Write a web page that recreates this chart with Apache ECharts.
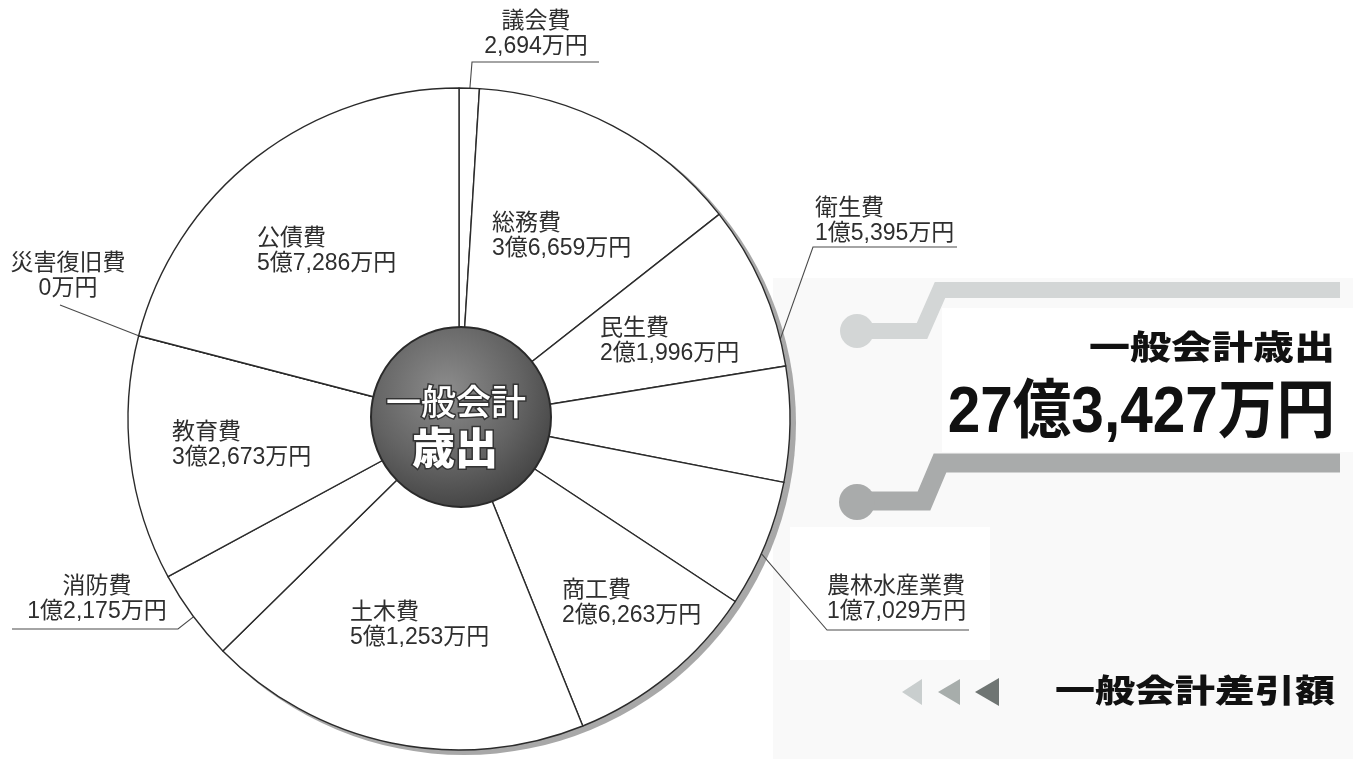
<!DOCTYPE html>
<html lang="ja">
<head>
<meta charset="utf-8">
<title>一般会計歳出</title>
<script src="https://cdn.jsdelivr.net/npm/echarts@6/dist/echarts.min.js"></script>
<style>
html,body{margin:0;padding:0;background:#fff;}
#chart{width:1353px;height:759px;}
</style>
</head>
<body>
<div id="chart"></div>
<script>
// ---- data (万円) ----
const categories = ['議会費','総務費','民生費','衛生費','農林水産業費','商工費','土木費','消防費','教育費','災害復旧費','公債費'];
const values = [2694, 36659, 21996, 15395, 17029, 26263, 51253, 12175, 32673, 0, 57286];
const centerTitle = ['一般会計', '歳出'];
const totalTitle = '一般会計歳出';
const totalValue = '27億3,427万円';
const subTitle = '一般会計差引額';

// ---- layout (not data) ----
const CENTER = [459, 419];
const RADIUS = 331;
const LABEL_LAYOUT = {
  '議会費':     {x: 536, y: 9,   align: 'center', line: {f: 0.96, ex: 472, ey: 62,  tx: 599}},
  '総務費':     {x: 492, y: 211, align: 'left'},
  '民生費':     {x: 600, y: 316, align: 'left'},
  '衛生費':     {x: 815, y: 196, align: 'left',   line: {f: 0.88, ex: 813, ey: 247, tx: 957}},
  '農林水産業費': {x: 827, y: 574, align: 'left',   line: {f: 0.94, ex: 827, ey: 630, tx: 969}},
  '商工費':     {x: 562, y: 578, align: 'left'},
  '土木費':     {x: 350, y: 600, align: 'left'},
  '消防費':     {x: 97,  y: 574, align: 'center', line: {f: 0.86, ex: 178, ey: 629, tx: 12}},
  '教育費':     {x: 172, y: 420, align: 'left'},
  '災害復旧費':   {x: 68,  y: 251, align: 'center', line: {f: 1.0, ex: 60, ey: 305, tx: 60}},
  '公債費':     {x: 257, y: 226, align: 'left'}
};

function fmtMan(v) {
  const oku = Math.floor(v / 10000);
  const man = v % 10000;
  const manStr = man.toLocaleString('en-US');
  return (oku > 0 ? oku + '億' : '') + manStr + '万円';
}

const total = values.reduce((a, b) => a + b, 0);
function midAngleOf(i) {
  let before = 0;
  for (let k = 0; k < i; k++) before += values[k];
  const frac = (before + values[i] / 2) / total;
  return frac * Math.PI * 2; // clockwise from top
}

const pieData = categories.map((name, i) => ({
  name: name,
  value: values[i],
  labelLine: {show: !!LABEL_LAYOUT[name].line}
}));

const FONT = '"Liberation Sans", "Noto Sans CJK JP", sans-serif';
const HEAVY = '"Noto Sans CJK JP", sans-serif';

const chart = echarts.init(document.getElementById('chart'), null, {renderer: 'canvas'});

const option = {
  backgroundColor: '#ffffff',
  animation: false,
  graphic: {
    elements: [
      // faint scanned panel on the right
      {type: 'rect', z: 0, shape: {x: 773, y: 278, width: 580, height: 481}, style: {fill: '#f9f9f9'}},
      {type: 'rect', z: 0, shape: {x: 942, y: 308, width: 411, height: 144}, style: {fill: '#ffffff'}},
      {type: 'rect', z: 0, shape: {x: 790, y: 527, width: 200, height: 133}, style: {fill: '#ffffff'}},
      // shadow crescent behind the pie
      {type: 'circle', z: 1, shape: {cx: CENTER[0] + 5, cy: CENTER[1] + 4, r: RADIUS + 1}, style: {fill: '#a8a8a8'}},
      // center disc
      {type: 'circle', z: 100, shape: {cx: 461, cy: 417, r: 90},
        style: {
          fill: new echarts.graphic.RadialGradient(0.42, 0.35, 0.75, [
            {offset: 0, color: '#8c8c8c'},
            {offset: 0.55, color: '#636363'},
            {offset: 1, color: '#3a3a3a'}
          ]),
          stroke: '#2a2a2a', lineWidth: 2
        }},
      {type: 'text', z: 101, x: 456, y: 402,
        style: {text: centerTitle[0], x: 0, y: 0, align: 'center', verticalAlign: 'middle',
          textAlign: 'center', textVerticalAlign: 'middle',
          font: '500 35px ' + HEAVY, fill: '#ffffff', stroke: '#333333', lineWidth: 3}},
      {type: 'text', z: 101, x: 455, y: 448,
        style: {text: centerTitle[1], x: 0, y: 0, align: 'center', verticalAlign: 'middle',
          textAlign: 'center', textVerticalAlign: 'middle',
          font: '900 43px ' + HEAVY, fill: '#ffffff', stroke: '#333333', lineWidth: 3}},
      // right decorations: upper band
      {type: 'polyline', z: 2, shape: {points: [[857, 331], [922, 331], [940, 290], [1340, 290]]},
        style: {stroke: '#d3d6d6', lineWidth: 16, fill: null, lineJoin: 'miter'}},
      {type: 'circle', z: 2, shape: {cx: 857, cy: 331, r: 17}, style: {fill: '#d3d6d6'}},
      // lower band
      {type: 'polyline', z: 2, shape: {points: [[857, 501], [924, 501], [940, 463], [1340, 463]]},
        style: {stroke: '#a9abab', lineWidth: 19, fill: null, lineJoin: 'miter'}},
      {type: 'circle', z: 2, shape: {cx: 857, cy: 502, r: 18}, style: {fill: '#a9abab'}},
      // titles
      {type: 'text', z: 3, x: 1335, y: 347, scaleY: 0.8,
        style: {text: totalTitle, x: 0, y: 0, align: 'right', verticalAlign: 'middle',
          textAlign: 'right', textVerticalAlign: 'middle',
          font: '900 41px ' + HEAVY, fill: '#111111'}},
      {type: 'text', z: 3, x: 1335, y: 414, scaleX: 0.915,
        style: {text: totalValue, x: 0, y: 0, align: 'right', verticalAlign: 'middle',
          textAlign: 'right', textVerticalAlign: 'middle',
          font: 'bold 64px "Liberation Sans", "Noto Sans CJK JP", sans-serif', fill: '#111111'}},
      // triangles
      {type: 'polygon', z: 3, shape: {points: [[902, 692], [922, 679], [922, 705]]}, style: {fill: '#c9cece'}},
      {type: 'polygon', z: 3, shape: {points: [[938, 692], [960, 679], [960, 705]]}, style: {fill: '#a7adab'}},
      {type: 'polygon', z: 3, shape: {points: [[975, 692], [999, 678], [999, 706]]}, style: {fill: '#6f7573'}},
      {type: 'text', z: 3, x: 1335, y: 690, scaleY: 0.8,
        style: {text: subTitle, x: 0, y: 0, align: 'right', verticalAlign: 'middle',
          textAlign: 'right', textVerticalAlign: 'middle',
          font: '900 40px ' + HEAVY, fill: '#111111'}}
    ]
  },
  series: [{
    type: 'pie',
    center: CENTER,
    radius: [0, RADIUS],
    startAngle: 90,
    clockwise: true,
    avoidLabelOverlap: false,
    minShowLabelAngle: 0,
    silent: true,
    emphasis: {disabled: true, scale: false},
    itemStyle: {color: '#ffffff', borderColor: '#2b2b2b', borderWidth: 1.4},
    label: {
      show: true,
      position: 'outside',
      width: 220,
      overflow: 'none',
      fontFamily: FONT,
      fontSize: 23,
      lineHeight: 25,
      color: '#2e2e2e',
      formatter: function (p) { return p.name + '\n' + fmtMan(p.value); }
    },
    labelLine: {show: true, lineStyle: {color: '#4a4a4a', width: 1.1}},
    labelLayout: function (params) {
      const name = categories[params.dataIndex];
      const L = LABEL_LAYOUT[name];
      const out = {x: L.x, y: L.y, align: L.align, verticalAlign: 'top', hideOverlap: false};
      if (L.line) {
        let edge;
        if (params.labelLinePoints && params.labelLinePoints[0]) {
          edge = params.labelLinePoints[0];
        } else {
          const a = midAngleOf(params.dataIndex);
          edge = [CENTER[0] + RADIUS * Math.sin(a), CENTER[1] - RADIUS * Math.cos(a)];
        }
        const start = [CENTER[0] + (edge[0] - CENTER[0]) * L.line.f, CENTER[1] + (edge[1] - CENTER[1]) * L.line.f];
        out.labelLinePoints = [start, [L.line.ex, L.line.ey], [L.line.tx, L.line.ey]];
      }
      return out;
    },
    data: pieData
  }]
};

chart.setOption(option);
</script>
</body>
</html>
